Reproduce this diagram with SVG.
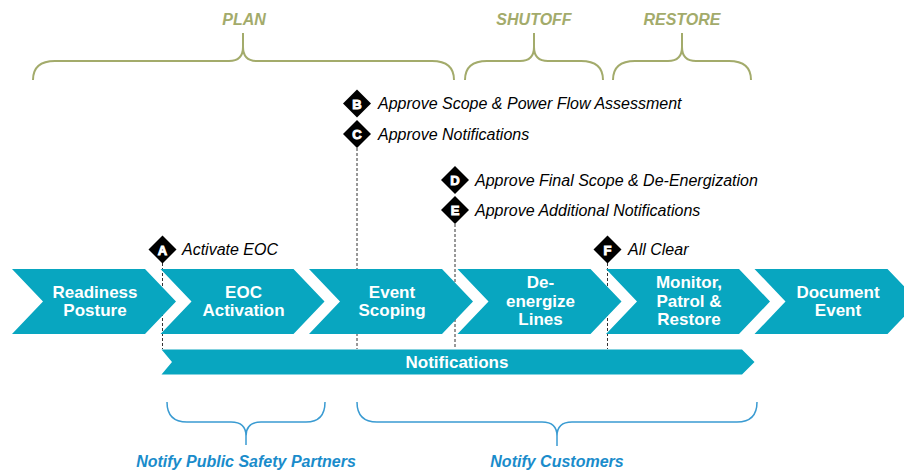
<svg xmlns="http://www.w3.org/2000/svg" width="904" height="472" viewBox="0 0 904 472">
<style>
.chev{fill:#08a6c0}
.ct{font-family:"Liberation Sans",Arial,sans-serif;font-weight:bold;font-size:17px;fill:#fff;text-anchor:middle}
.phase{font-family:"Liberation Sans",Arial,sans-serif;font-weight:bold;font-style:italic;font-size:16px;fill:#a3ab6b;text-anchor:middle}
.obrace{fill:none;stroke:#a3ab6b;stroke-width:2}
.bbrace{fill:none;stroke:#3a9bd2;stroke-width:1.5}
.notify{font-family:"Liberation Sans",Arial,sans-serif;font-weight:bold;font-style:italic;font-size:16px;fill:#1a8ccb;text-anchor:middle}
.ms{font-family:"Liberation Sans",Arial,sans-serif;font-style:italic;font-size:16px;fill:#000}
.dia{fill:#000}
.dl{font-family:"Liberation Sans",Arial,sans-serif;font-weight:bold;font-size:13px;fill:#fff;stroke:#fff;stroke-width:0.9;text-anchor:middle}
.dash{stroke:#333;stroke-width:1;stroke-dasharray:3,2;fill:none}
</style>

<g id="phases">
  <text class="phase" x="244" y="25">PLAN</text>
  <path class="obrace" d="M33,80 Q33,61 55,61 H229 Q243,61 243,47 V33 M243,47 Q243,61 257,61 H432 Q454,61 454,80"/>
  <text class="phase" x="534" y="25">SHUTOFF</text>
  <path class="obrace" d="M465,80 Q465,61 487,61 H520 Q534,61 534,47 V33 M534,47 Q534,61 548,61 H581 Q603,61 603,80"/>
  <text class="phase" x="682" y="25">RESTORE</text>
  <path class="obrace" d="M613,80 Q613,61 635,61 H668 Q682,61 682,47 V33 M682,47 Q682,61 696,61 H729 Q751,61 751,80"/>
</g>

<g id="connectors">
  <line class="dash" x1="162.5" y1="263" x2="162.5" y2="349"/>
  <line class="dash" x1="357" y1="148" x2="357" y2="349"/>
  <line class="dash" x1="455" y1="224" x2="455" y2="349"/>
  <line class="dash" x1="607.5" y1="263" x2="607.5" y2="349"/>
</g>

<g id="readiness-posture">
  <polygon class="chev" points="12,269 145,269 176,301.5 145,334 12,334 43,301.5"/>
  <text class="ct" x="95" y="297.5">Readiness</text>
  <text class="ct" x="95" y="316">Posture</text>
</g>
<g id="eoc-activation">
  <polygon class="chev" points="160.5,269 293.5,269 324.5,301.5 293.5,334 160.5,334 191.5,301.5"/>
  <text class="ct" x="243.5" y="297.5">EOC</text>
  <text class="ct" x="243.5" y="316">Activation</text>
</g>
<g id="event-scoping">
  <polygon class="chev" points="309,269 442,269 473,301.5 442,334 309,334 340,301.5"/>
  <text class="ct" x="392" y="297.5">Event</text>
  <text class="ct" x="392" y="316">Scoping</text>
</g>
<g id="de-energize-lines">
  <polygon class="chev" points="457.5,269 590.5,269 621.5,301.5 590.5,334 457.5,334 488.5,301.5"/>
  <text class="ct" x="540.5" y="288">De-</text>
  <text class="ct" x="540.5" y="306.5">energize</text>
  <text class="ct" x="540.5" y="325">Lines</text>
</g>
<g id="monitor-patrol-restore">
  <polygon class="chev" points="606,269 739,269 770,301.5 739,334 606,334 637,301.5"/>
  <text class="ct" x="689" y="288">Monitor,</text>
  <text class="ct" x="689" y="306.5">Patrol &amp;</text>
  <text class="ct" x="689" y="325">Restore</text>
</g>
<g id="document-event">
  <polygon class="chev" points="754.5,269 887.5,269 918.5,301.5 887.5,334 754.5,334 785.5,301.5"/>
  <text class="ct" x="838" y="297.5">Document</text>
  <text class="ct" x="838" y="316">Event</text>
</g>

<g id="notifications">
  <polygon class="chev" points="161.5,349.5 742,349.5 754.5,362 742,374.5 161.5,374.5 172,362"/>
  <text class="ct" x="457" y="368">Notifications</text>
</g>

<g id="milestone-a">
  <polygon class="dia" points="162.5,235.5 176.5,249.5 162.5,263.5 148.5,249.5"/>
  <text class="dl" x="162.5" y="254.5">A</text>
  <text class="ms" x="182" y="255">Activate EOC</text>
</g>
<g id="milestone-b">
  <polygon class="dia" points="357,89.5 371,103.5 357,117.5 343,103.5"/>
  <text class="dl" x="357" y="108.5">B</text>
  <text class="ms" x="378" y="109">Approve Scope &amp; Power Flow Assessment</text>
</g>
<g id="milestone-c">
  <polygon class="dia" points="357,120 371,134 357,148 343,134"/>
  <text class="dl" x="357" y="139">C</text>
  <text class="ms" x="378" y="140">Approve Notifications</text>
</g>
<g id="milestone-d">
  <polygon class="dia" points="455,166 469,180 455,194 441,180"/>
  <text class="dl" x="455" y="185">D</text>
  <text class="ms" x="475" y="186">Approve Final Scope &amp; De-Energization</text>
</g>
<g id="milestone-e">
  <polygon class="dia" points="455,196 469,210 455,224 441,210"/>
  <text class="dl" x="455" y="215">E</text>
  <text class="ms" x="475" y="216">Approve Additional Notifications</text>
</g>
<g id="milestone-f">
  <polygon class="dia" points="607.5,235.5 621.5,249.5 607.5,263.5 593.5,249.5"/>
  <text class="dl" x="607.5" y="254.5">F</text>
  <text class="ms" x="628" y="255">All Clear</text>
</g>

<g id="notify-partners">
  <path class="bbrace" d="M167,402 Q167,422 187,422 H231 Q246,422 246,436 V445 M246,436 Q246,422 261,422 H306 Q325,422 325,402"/>
  <text class="notify" x="246" y="467">Notify Public Safety Partners</text>
</g>
<g id="notify-customers">
  <path class="bbrace" d="M357,402 Q357,422 377,422 H542 Q557,422 557,436 V446 M557,436 Q557,422 572,422 H737 Q757,422 757,402"/>
  <text class="notify" x="557" y="467">Notify Customers</text>
</g>
</svg>
